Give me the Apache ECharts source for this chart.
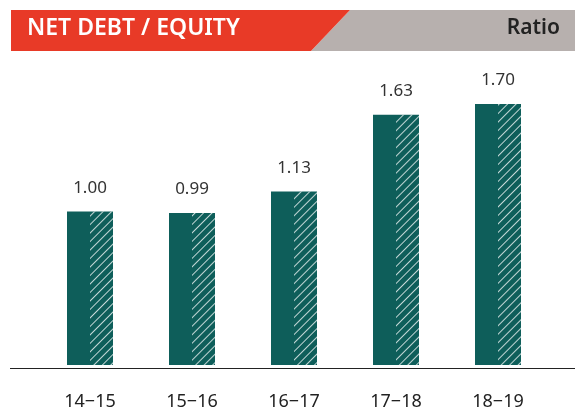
<!DOCTYPE html>
<html>
<head>
<meta charset="utf-8">
<script src="https://cdn.jsdelivr.net/npm/echarts@6/dist/echarts.min.js"></script>
<style>
  html, body { margin: 0; padding: 0; background: #fff; }
  #chart { width: 575px; height: 411px; }
</style>
</head>
<body>
<div id="chart"></div>
<script>
const years = ['14−15', '15−16', '16−17', '17−18', '18−19'];
const ratio = [1.00, 0.99, 1.13, 1.63, 1.70];
const title = 'NET DEBT / EQUITY';
const unit = 'Ratio';

const teal = '#0e5e5a';
const font = 'Noto Sans';

const myChart = echarts.init(document.getElementById('chart'));

const option = {
  animation: false,
  grid: { left: 39, width: 510, top: 58, height: 310 },
  xAxis: {
    type: 'category',
    data: years,
    axisLine: { show: false },
    axisTick: { show: false },
    axisLabel: { color: '#222', fontSize: 18, fontFamily: font, margin: 28 }
  },
  yAxis: {
    type: 'value',
    min: 0,
    max: 2,
    show: false,
    splitLine: { show: false }
  },
  series: [
    {
      type: 'bar',
      data: ratio,
      barWidth: 23,
      barGap: '0%',
      itemStyle: { color: teal },
      label: {
        show: true,
        position: 'top',
        distance: 15,
        offset: [11.5, 0],
        color: '#333',
        fontSize: 17,
        fontFamily: font,
        formatter: p => p.value.toFixed(2)
      }
    },
    {
      type: 'bar',
      data: ratio,
      barWidth: 23,
      itemStyle: {
        color: teal,
        decal: {
          symbol: 'rect',
          symbolSize: 1,
          color: 'rgba(255,255,255,0.75)',
          dashArrayX: [1, 0],
          dashArrayY: [1, 5],
          rotation: -Math.PI / 4
        }
      }
    }
  ],
  graphic: [
    {
      type: 'polygon',
      shape: { points: [[575, 10], [350, 10], [311, 51], [575, 51]] },
      style: { fill: '#b7b0ae' }
    },
    {
      type: 'polygon',
      shape: { points: [[11, 10], [350, 10], [311, 51], [11, 51]] },
      style: { fill: '#e83a27' }
    },
    {
      type: 'text',
      left: 27,
      top: 17,
      style: { text: title, fill: '#fff', font: '600 23px "Noto Sans"' }
    },
    {
      type: 'text',
      right: 15,
      top: 18,
      style: { text: unit, fill: '#222', font: '600 21px "Noto Sans"' }
    },
    {
      type: 'line',
      shape: { x1: 10, y1: 368.5, x2: 575, y2: 368.5 },
      style: { stroke: '#222', lineWidth: 1.2 }
    }
  ]
};

myChart.setOption(option);
</script>
</body>
</html>
